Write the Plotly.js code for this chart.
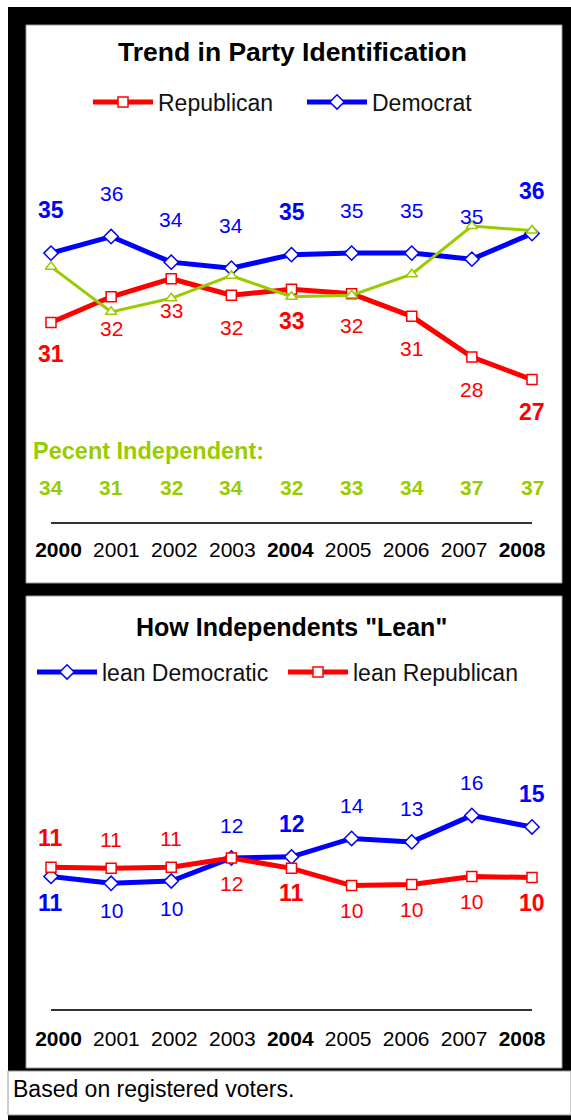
<!DOCTYPE html>
<html><head><meta charset="utf-8">
<script src="https://cdn.plot.ly/plotly-3.0.1.min.js"></script>
<style>html,body{margin:0;padding:0;background:#fff;}#chart{width:571px;height:1120px;}</style>
</head><body><div id="chart"></div>
<script>
// ---- data ----
const years = [2000, 2001, 2002, 2003, 2004, 2005, 2006, 2007, 2008];
const yearLabels = ['2000', '2001', '2002', '2003', '2004', '2005', '2006', '2007', '2008'];
const republican = [30.5, 32.2, 33.4, 32.3, 32.7, 32.4, 30.9, 28.2, 26.7];
const republicanLabels = ['31', '32', '33', '32', '33', '32', '31', '28', '27'];
const democrat = [35.1, 36.2, 34.5, 34.1, 35.0, 35.1, 35.1, 34.7, 36.4];
const democratLabels = ['35', '36', '34', '34', '35', '35', '35', '35', '36'];
const independent = [34.2, 31.2, 32.1, 33.6, 32.2, 32.3, 33.7, 36.9, 36.6];
const independentLabels = ['34', '31', '32', '34', '32', '33', '34', '37', '37'];
const leanDem = [10.4, 9.8, 10.0, 12.0, 12.1, 13.7, 13.4, 15.7, 14.7];
const leanDemLabels = ['11', '10', '10', '12', '12', '14', '13', '16', '15'];
const leanRep = [11.2, 11.1, 11.2, 12.0, 11.1, 9.6, 9.7, 10.4, 10.3];
const leanRepLabels = ['11', '11', '11', '12', '11', '10', '10', '10', '10'];

// ---- styling / layout helpers ----
const W = 571, H = 1120;
const px = v => v / W;
const py = v => 1 - v / H;
const FONT = 'Liberation Sans, Arial, sans-serif';
const BLUE = '#0000ff', RED = '#ff0000', GREEN = '#99cc00';
const isKeyYear = y => y % 4 === 0;

const X0 = 51, X1 = 532;              // pixel span of data years
const LAB0 = 58.5, LAB1 = 522;        // pixel centers of first/last year label
const k = (LAB1 - LAB0) / (years[years.length - 1] - years[0]);
const labA = years[0] - (LAB0 - X0) / k;
const labB = labA + (X1 - X0) / k;

const traces = [
  {x: years, y: republican, name: 'Republican', xaxis: 'x', yaxis: 'y', legend: 'legend',
   mode: 'lines+markers', line: {color: RED, width: 5}, cliponaxis: false,
   marker: {symbol: 'square', size: 10, color: 'white', line: {color: RED, width: 1.5}}},
  {x: years, y: democrat, name: 'Democrat', xaxis: 'x', yaxis: 'y', legend: 'legend',
   mode: 'lines+markers', line: {color: BLUE, width: 5}, cliponaxis: false,
   marker: {symbol: 'diamond', size: 11, color: 'white', line: {color: BLUE, width: 1.5}}},
  {x: years, y: independent, name: 'Independent', xaxis: 'x', yaxis: 'y', showlegend: false,
   mode: 'lines+markers', line: {color: GREEN, width: 3}, cliponaxis: false,
   marker: {symbol: 'triangle-up', size: 10, color: 'white', line: {color: GREEN, width: 1.5}}},
  {x: years, y: leanDem, name: 'lean Democratic', xaxis: 'x2', yaxis: 'y2', legend: 'legend2',
   mode: 'lines+markers', line: {color: BLUE, width: 5}, cliponaxis: false,
   marker: {symbol: 'diamond', size: 11, color: 'white', line: {color: BLUE, width: 1.5}}},
  {x: years, y: leanRep, name: 'lean Republican', xaxis: 'x2', yaxis: 'y2', legend: 'legend2',
   mode: 'lines+markers', line: {color: RED, width: 5}, cliponaxis: false,
   marker: {symbol: 'square', size: 10, color: 'white', line: {color: RED, width: 1.5}}},
  // empty carriers so the year-label axes are drawn
  {x: years, y: years.map(() => null), xaxis: 'x3', yaxis: 'y', mode: 'markers', showlegend: false, hoverinfo: 'skip'},
  {x: years, y: years.map(() => null), xaxis: 'x4', yaxis: 'y2', mode: 'markers', showlegend: false, hoverinfo: 'skip'}
];

const ann = [];
function label(xref, yref, x, y, text, color, shift, bold) {
  ann.push({xref: xref, yref: yref, x: x, y: y, text: bold ? '<b>' + text + '</b>' : text,
    showarrow: false, yshift: shift, xanchor: 'center', yanchor: 'middle',
    font: {family: FONT, size: bold ? 23 : 21, color: color}});
}
years.forEach((yr, i) => {
  const b = isKeyYear(yr);
  label('x', 'y', yr, democrat[i], democratLabels[i], BLUE, 43, b);
  label('x', 'y', yr, republican[i], republicanLabels[i], RED, -32, b);
  ann.push({xref: 'x', yref: 'paper', x: yr, y: py(487), text: '<b>' + independentLabels[i] + '</b>',
    showarrow: false, xanchor: 'center', yanchor: 'middle', font: {family: FONT, size: 21, color: GREEN}});
  const demUp = leanDem[i] >= leanRep[i];
  label('x2', 'y2', yr, leanDem[i], leanDemLabels[i], BLUE, demUp ? 33 : -27, b);
  label('x2', 'y2', yr, leanRep[i], leanRepLabels[i], RED, demUp ? -25 : 29, b);
});
ann.push({xref: 'paper', yref: 'paper', x: px(292), y: py(52), text: '<b>Trend in Party Identification</b>',
  showarrow: false, xanchor: 'center', yanchor: 'middle', font: {family: FONT, size: 26.5, color: '#000'}});
ann.push({xref: 'paper', yref: 'paper', x: px(291), y: py(627), text: '<b>How Independents "Lean"</b>',
  showarrow: false, xanchor: 'center', yanchor: 'middle', font: {family: FONT, size: 25, color: '#000'}});
ann.push({xref: 'paper', yref: 'paper', x: px(31), y: py(451), text: '<b>Pecent Independent:</b>',
  showarrow: false, xanchor: 'left', yanchor: 'middle', font: {family: FONT, size: 23.5, color: GREEN}});
ann.push({xref: 'paper', yref: 'paper', x: px(11), y: py(1089), text: 'Based on registered voters.',
  showarrow: false, xanchor: 'left', yanchor: 'middle', font: {family: FONT, size: 23, color: '#000'}});

const rect = (x0, y0, x1, y1, fill, line) => ({type: 'rect', xref: 'paper', yref: 'paper', layer: 'below',
  x0: px(x0), x1: px(x1), y0: py(y1), y1: py(y0), fillcolor: fill,
  line: line ? {color: line, width: 1} : {width: 0}});
const shapes = [
  rect(8, 7, 571, 1120, '#000'),
  rect(26, 25, 562, 583, '#fff', '#999'),
  rect(26, 596, 562, 1068, '#fff', '#999'),
  rect(8, 1071, 571, 1115, '#fff', '#999')
];

const tickText = years.map((y, i) => isKeyYear(y) ? '<b>' + yearLabels[i] + '</b>' : yearLabels[i]);
const hidden = {visible: false, fixedrange: true};
const baseX = {domain: [px(X0), px(X1)], range: [years[0], years[years.length - 1]],
  showgrid: false, zeroline: false, showline: false, showticklabels: false, ticks: ''};
const labelX = {visible: true, range: [labA, labB], showgrid: false, zeroline: false, showline: true,
  linecolor: '#333', linewidth: 2, ticks: '', tickmode: 'array', tickvals: years, ticktext: tickText,
  tickfont: {family: FONT, size: 21, color: '#000'}, ticklabelstandoff: 8};

const layout = {
  width: W, height: H, margin: {l: 0, r: 0, t: 0, b: 0},
  paper_bgcolor: '#fff', plot_bgcolor: 'rgba(0,0,0,0)', hovermode: false,
  xaxis: Object.assign({}, baseX, {anchor: 'y'}),
  yaxis: Object.assign({}, hidden, {domain: [py(522), py(150)], range: [17.24, 41.95]}),
  xaxis3: Object.assign({}, labelX, {overlaying: 'x', anchor: 'y'}),
  xaxis2: Object.assign({}, baseX, {anchor: 'y2'}),
  yaxis2: Object.assign({}, hidden, {domain: [py(1009), py(740)], range: [-1.13, 22.26]}),
  xaxis4: Object.assign({}, labelX, {overlaying: 'x2', anchor: 'y2', ticklabelstandoff: 10}),
  legend: {orientation: 'h', x: px(88), xanchor: 'left', y: py(102), yanchor: 'middle',
    font: {family: FONT, size: 23, color: '#111'}, bgcolor: 'rgba(0,0,0,0)', itemwidth: 60,
    entrywidth: 139, entrywidthmode: 'pixels', traceorder: 'normal'},
  legend2: {orientation: 'h', x: px(32), xanchor: 'left', y: py(672), yanchor: 'middle',
    font: {family: FONT, size: 23, color: '#111'}, bgcolor: 'rgba(0,0,0,0)', itemwidth: 60,
    entrywidth: 176, entrywidthmode: 'pixels', traceorder: 'normal'},
  annotations: ann,
  shapes: shapes
};

Plotly.newPlot('chart', traces, layout, {displayModeBar: false, staticPlot: true});
</script></body></html>
